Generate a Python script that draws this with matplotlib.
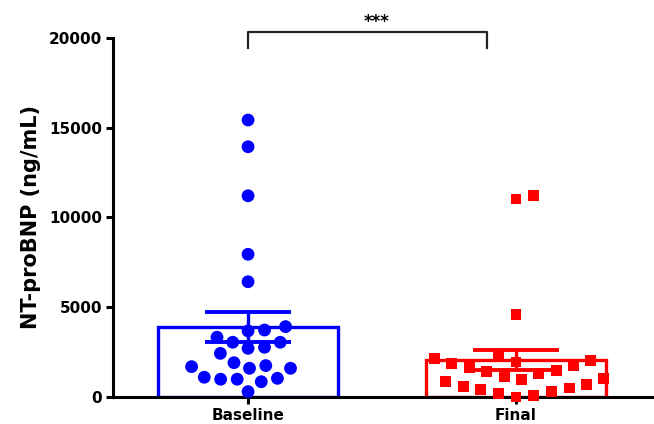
import numpy as np
import matplotlib
matplotlib.use("Agg")
import matplotlib.pyplot as plt

# ── Data ──
groups = ["Baseline", "Final"]
baseline = [15430, 13940, 11210, 7950, 6420, 3920, 3730, 3680, 3330, 3050,
            3050, 2770, 2710, 2430, 1910, 1750, 1690, 1600, 1600, 1100,
            1040, 990, 990, 850, 300]
final = [11200, 11030, 4570, 2250, 2150, 2050, 1950, 1850, 1750, 1650,
         1500, 1400, 1300, 1150, 1050, 950, 850, 700, 600, 500,
         400, 300, 200, 100, 0]
y_ticks = [0, 5000, 10000, 15000, 20000]
y_label = "NT-proBNP (ng/mL)"
sig_text = "***"

# ── Style ──
colors = ["#0000ff", "#ff0000"]
markers = ["o", "s"]
marker_sizes = [85, 62]
spread_px = [16.5, 18]  # horizontal spacing between neighbouring points (pixels)


def swarm_offsets(values, ax, diam_px):
    """Simple beeswarm: x offsets (pixels) so that points do not overlap."""
    ypix = ax.transData.transform(np.column_stack([np.zeros(len(values)), values]))[:, 1]
    order = np.argsort(np.asarray(values), kind="stable")
    placed = []  # (x, y) in px
    offs = np.zeros(len(values))
    for i in order:
        y = ypix[i]
        forbidden = []
        for (px, py) in placed:
            dy = abs(py - y)
            if dy < diam_px:
                dx = np.sqrt(diam_px ** 2 - dy ** 2)
                forbidden.append((px - dx, px + dx))
        cands = [0.0] + [a for a, b in forbidden] + [b for a, b in forbidden]
        cands = sorted(cands, key=lambda c: (round(abs(c), 6), -c))
        for c in cands:
            if all(not (a + 1e-6 < c < b - 1e-6) for a, b in forbidden):
                offs[i] = c
                break
        placed.append((offs[i], y))
    return offs


fig = plt.figure(figsize=(6.54, 4.24), dpi=100)
ax = fig.add_axes([0.1728, 0.0637, 0.8272, 0.8467])
ax.set_xlim(-0.504, 1.515)
ax.set_ylim(0, 20000)

xs = np.arange(len(groups))
data = [baseline, final]
means = [np.mean(d) for d in data]
sems = [np.std(d, ddof=1) / np.sqrt(len(d)) for d in data]

ax.bar(xs, means, width=0.67, fill=False, edgecolor=colors, linewidth=2.4, zorder=1)
for x, m, s, c in zip(xs, means, sems, colors):
    ax.errorbar(x, m, yerr=s, fmt="none", ecolor=c, elinewidth=2.4,
                capsize=31, capthick=2.8, zorder=2)

# px per x-data unit
px_per_unit = ax.transData.transform((1, 0))[0] - ax.transData.transform((0, 0))[0]
for x, d, c, mk, ms, sp in zip(xs, data, colors, markers, marker_sizes, spread_px):
    off = swarm_offsets(d, ax, sp) / px_per_unit
    ax.scatter(x + off, d, s=ms, marker=mk, color=c, edgecolors="none",
               zorder=4, clip_on=False)

# significance bracket
ax.plot([0.0, 0.0, 0.89, 0.89], [19440, 20330, 20330, 19440], color="#222222",
        linewidth=1.6, clip_on=False)
ax.text(0.48, 20900, sig_text, ha="center", va="center", fontsize=12,
        fontweight="bold", color="black", clip_on=False)

# axes styling
for side in ["top", "right"]:
    ax.spines[side].set_visible(False)
for side in ["left", "bottom"]:
    ax.spines[side].set_linewidth(2.2)
ax.set_xticks(xs)
ax.set_xticklabels(groups)
ax.set_yticks(y_ticks)
ax.tick_params(axis="both", direction="out", length=5, width=2.2, labelsize=11, pad=3)
for lab in ax.get_xticklabels() + ax.get_yticklabels():
    lab.set_fontweight("bold")
ax.set_ylabel(y_label, fontsize=15, fontweight="bold")
ax.yaxis.set_label_coords(-0.133, 0.5)

fig.savefig("out.png", dpi=100)
